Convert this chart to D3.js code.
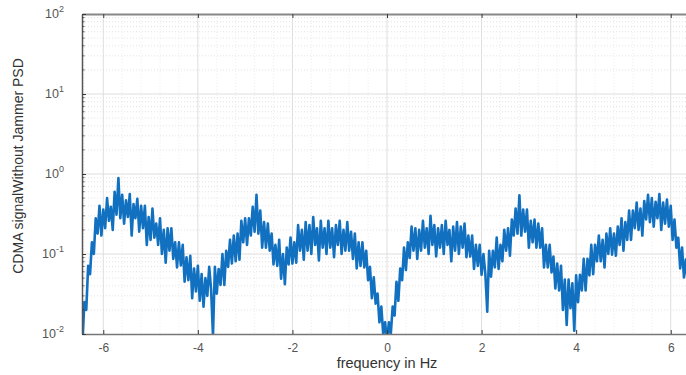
<!DOCTYPE html>
<html>
<head>
<meta charset="utf-8">
<script src="https://cdn.jsdelivr.net/npm/d3@7"></script>
<style>
  html, body { margin: 0; padding: 0; background: #fff; }
  svg { display: block; }
  text { font-family: "Liberation Sans", Arial, sans-serif; }
</style>
</head>
<body>
<svg id="chart" width="686" height="375"></svg>
<script>
// ---- data ----
const freqStart = -6.44;   // Hz, first sample
const freqStep = 0.04;     // Hz between samples
const psd = [
  0.008, 0.025, 0.020, 0.071, 0.056, 0.14, 0.10, 0.28, 0.18, 0.40,
  0.17, 0.36, 0.21, 0.50, 0.26, 0.39, 0.20, 0.60, 0.31, 0.89,
  0.28, 0.55, 0.24, 0.47, 0.29, 0.56, 0.17, 0.42, 0.28, 0.49,
  0.19, 0.40, 0.21, 0.40, 0.13, 0.29, 0.15, 0.37, 0.16, 0.24,
  0.13, 0.28, 0.10, 0.20, 0.078, 0.21, 0.11, 0.21, 0.087, 0.14,
  0.068, 0.14, 0.072, 0.13, 0.045, 0.091, 0.047, 0.095, 0.028, 0.066,
  0.034, 0.071, 0.026, 0.056, 0.022, 0.050, 0.030, 0.069, 0.036, 0.0095,
  0.069, 0.032, 0.065, 0.041, 0.10, 0.041, 0.11, 0.069, 0.15, 0.076,
  0.17, 0.081, 0.18, 0.085, 0.26, 0.14, 0.28, 0.13, 0.28, 0.17,
  0.39, 0.19, 0.55, 0.18, 0.35, 0.12, 0.25, 0.12, 0.24, 0.11,
  0.18, 0.074, 0.13, 0.071, 0.15, 0.049, 0.10, 0.042, 0.12, 0.074,
  0.16, 0.076, 0.14, 0.078, 0.23, 0.11, 0.20, 0.085, 0.25, 0.11,
  0.23, 0.10, 0.29, 0.13, 0.21, 0.083, 0.26, 0.12, 0.21, 0.10,
  0.26, 0.12, 0.21, 0.091, 0.23, 0.13, 0.26, 0.10, 0.20, 0.11,
  0.25, 0.11, 0.19, 0.087, 0.18, 0.066, 0.14, 0.071, 0.14, 0.068,
  0.11, 0.047, 0.069, 0.028, 0.051, 0.024, 0.032, 0.014, 0.022, 0.010,
  0.014, 0.008, 0.014, 0.010, 0.022, 0.017, 0.045, 0.026, 0.066, 0.047,
  0.12, 0.063, 0.14, 0.089, 0.22, 0.11, 0.21, 0.087, 0.20, 0.11,
  0.26, 0.12, 0.21, 0.10, 0.30, 0.13, 0.23, 0.093, 0.21, 0.12,
  0.23, 0.10, 0.26, 0.13, 0.20, 0.081, 0.22, 0.11, 0.25, 0.10,
  0.22, 0.12, 0.24, 0.091, 0.17, 0.093, 0.17, 0.065, 0.13, 0.071,
  0.13, 0.055, 0.10, 0.056, 0.019, 0.11, 0.052, 0.11, 0.068, 0.16,
  0.065, 0.13, 0.081, 0.20, 0.11, 0.21, 0.095, 0.27, 0.17, 0.37,
  0.18, 0.54, 0.17, 0.36, 0.19, 0.36, 0.12, 0.26, 0.14, 0.27,
  0.12, 0.24, 0.12, 0.21, 0.068, 0.13, 0.068, 0.13, 0.059, 0.093,
  0.037, 0.076, 0.035, 0.071, 0.020, 0.048, 0.013, 0.048, 0.021, 0.043,
  0.011, 0.054, 0.025, 0.055, 0.035, 0.087, 0.035, 0.087, 0.054, 0.13,
  0.056, 0.13, 0.081, 0.17, 0.081, 0.15, 0.068, 0.18, 0.10, 0.21,
  0.098, 0.18, 0.095, 0.22, 0.13, 0.28, 0.11, 0.25, 0.15, 0.35,
  0.15, 0.35, 0.21, 0.44, 0.20, 0.37, 0.17, 0.46, 0.27, 0.55,
  0.25, 0.50, 0.22, 0.45, 0.28, 0.56, 0.20, 0.44, 0.24, 0.48,
  0.22, 0.40, 0.15, 0.27, 0.12, 0.16, 0.066, 0.12, 0.051, 0.085,
  0.045, 0.025, 0.013
];
const xTicks = [-6, -4, -2, 0, 2, 4, 6];
const yTickExponents = [-2, -1, 0, 1, 2];
const xLabel = "frequency in Hz";
const yLabel = "CDMA signalWithout Jammer PSD";

// ---- layout ----
const plotLeft = 82, plotRight = 692, plotTop = 14, plotBottom = 334;
const svg = d3.select("#chart");

const x = d3.scaleLinear().domain([-6.45, 6.45]).range([plotLeft, plotRight]);
const y = d3.scaleLog().domain([1e-2, 1e2]).range([plotBottom, plotTop]);

const freqs = psd.map((_, i) => freqStart + i * freqStep);
const data = psd.map((v, i) => ({ f: freqs[i], p: v }));

svg.append("defs").append("clipPath").attr("id", "plotclip")
  .append("rect").attr("x", plotLeft).attr("y", plotTop)
  .attr("width", plotRight - plotLeft).attr("height", plotBottom - plotTop);

const grid = svg.append("g");

// minor x grid
const xMinor = d3.range(-6.4, 6.45, 0.4).filter(v => Math.abs(v / 2 - Math.round(v / 2)) > 1e-6);
grid.selectAll("line.xminor").data(xMinor).join("line")
  .attr("x1", d => x(d)).attr("x2", d => x(d))
  .attr("y1", plotTop).attr("y2", plotBottom)
  .attr("stroke", "#e6e6e6").attr("stroke-width", 0.7)
  .attr("stroke-dasharray", "1,2");

// minor y grid
const yMinor = [];
yTickExponents.slice(0, -1).forEach(e => {
  for (let k = 2; k <= 9; k++) yMinor.push(k * Math.pow(10, e));
});
grid.selectAll("line.yminor").data(yMinor).join("line")
  .attr("x1", plotLeft).attr("x2", plotRight)
  .attr("y1", d => y(d)).attr("y2", d => y(d))
  .attr("stroke", "#dcdcdc").attr("stroke-width", 0.8)
  .attr("stroke-dasharray", "1,2");

// major grid
grid.selectAll("line.xmajor").data(xTicks).join("line")
  .attr("x1", d => x(d)).attr("x2", d => x(d))
  .attr("y1", plotTop).attr("y2", plotBottom)
  .attr("stroke", "#dedede").attr("stroke-width", 1);
grid.selectAll("line.ymajor").data(yTickExponents.slice(1, -1)).join("line")
  .attr("x1", plotLeft).attr("x2", plotRight)
  .attr("y1", d => y(Math.pow(10, d))).attr("y2", d => y(Math.pow(10, d)))
  .attr("stroke", "#dedede").attr("stroke-width", 1);

// data line
const line = d3.line().x(d => x(d.f)).y(d => y(d.p));
svg.append("path").datum(data)
  .attr("clip-path", "url(#plotclip)")
  .attr("fill", "none")
  .attr("stroke", "#1270c0")
  .attr("stroke-width", 2.6)
  .attr("stroke-linejoin", "round")
  .attr("d", line);

// axes (box, inward ticks like MATLAB)
const axisColor = "#3a3a3a";
const xAxisB = d3.axisBottom(x).tickValues(xTicks).tickSizeInner(-4).tickSizeOuter(0).tickPadding(9)
  .tickFormat(d => String(d));
const gxb = svg.append("g").attr("transform", `translate(0,${plotBottom})`).call(xAxisB);
gxb.select(".domain").attr("stroke", "#777").attr("stroke-width", 1.5);
gxb.selectAll(".tick line").attr("stroke", axisColor);
gxb.selectAll("text").attr("font-size", 12).attr("fill", "#555")
  .style("font-family", "'Liberation Sans', Arial, sans-serif");

const xAxisT = d3.axisTop(x).tickValues(xTicks).tickSizeInner(-4).tickSizeOuter(0).tickFormat("");
const gxt = svg.append("g").attr("transform", `translate(0,${plotTop})`).call(xAxisT);
gxt.select(".domain").attr("stroke", "#888").attr("stroke-width", 2);
gxt.selectAll(".tick line").attr("stroke", axisColor);

const yAxis = d3.axisLeft(y).tickValues(yTickExponents.map(e => Math.pow(10, e)))
  .tickSizeInner(-4).tickSizeOuter(0).tickFormat("");
const gy = svg.append("g").attr("transform", `translate(${plotLeft},0)`).call(yAxis);
gy.select(".domain").attr("stroke", "#555").attr("stroke-width", 1.5);
gy.selectAll(".tick line").attr("stroke", axisColor);

// minor log ticks on left axis
svg.append("g").selectAll("line").data(yMinor).join("line")
  .attr("x1", plotLeft).attr("x2", plotLeft + 2.5)
  .attr("y1", d => y(d)).attr("y2", d => y(d))
  .attr("stroke", axisColor).attr("stroke-width", 0.8);

// y tick labels 10^n
const yl = svg.append("g").selectAll("text").data(yTickExponents).join("text")
  .attr("x", plotLeft - 18).attr("y", d => y(Math.pow(10, d)) + 4)
  .attr("text-anchor", "end").attr("font-size", 12.5).attr("fill", "#555");
yl.append("tspan").text("10");
yl.append("tspan").attr("dy", -6).attr("font-size", 9).text(d => d < 0 ? "-" + Math.abs(d) : String(d));

// axis titles
svg.append("text").attr("x", x(0)).attr("y", 368)
  .attr("text-anchor", "middle").attr("font-size", 14.5).attr("fill", "#333")
  .text(xLabel);
svg.append("text")
  .attr("transform", `translate(23,${(plotTop + plotBottom) / 2 - 8}) rotate(-90)`)
  .attr("text-anchor", "middle").attr("font-size", 14).attr("fill", "#333")
  .text(yLabel);
</script>
</body>
</html>
